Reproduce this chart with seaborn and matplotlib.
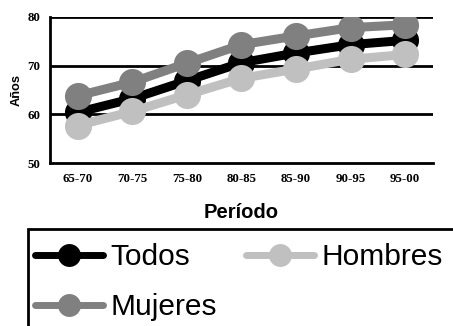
import matplotlib
matplotlib.use("Agg")
import matplotlib.pyplot as plt
import seaborn as sns
import pandas as pd
import numpy as np
from matplotlib.patches import Rectangle

# Data
periodos = ['65-70', '70-75', '75-80', '80-85', '85-90', '90-95', '95-00']
todos = [60.4, 63.2, 66.9, 70.6, 72.6, 74.3, 75.2]
hombres = [57.7, 60.6, 64.0, 67.4, 69.3, 71.3, 72.3]
mujeres = [63.8, 66.6, 70.5, 74.3, 76.1, 77.8, 78.4]

series = ['Todos', 'Hombres', 'Mujeres']
colores = {'Todos': '#000000', 'Hombres': '#c0c0c0', 'Mujeres': '#808080'}

df = pd.DataFrame({'Período': periodos, 'Todos': todos,
                   'Hombres': hombres, 'Mujeres': mujeres})
df_long = df.melt(id_vars='Período', var_name='Serie', value_name='Años')

sns.set_style('white')
plt.rcParams['font.family'] = ['Liberation Sans', 'DejaVu Sans']
plt.rcParams['text.color'] = 'black'
plt.rcParams['axes.labelcolor'] = 'black'
plt.rcParams['xtick.color'] = 'black'
plt.rcParams['ytick.color'] = 'black'

W, H = 453, 326
fig = plt.figure(figsize=(W / 100, H / 100), dpi=100)
ax = fig.add_axes([0.110, 0.500, 0.846, 0.448])

# grid lines first so the lines sit above them
for v in [60, 70, 80]:
    ax.axhline(v, color='black', lw=2.0, zorder=1)

sns.lineplot(data=df_long, x='Período', y='Años', hue='Serie',
             hue_order=series, palette=colores, marker='o',
             markersize=19.5, markeredgewidth=0, linewidth=6.5,
             sort=False, legend=False, ax=ax, zorder=3)

ax.set_ylim(50, 80)
ax.set_xlim(-0.51, 6.51)
ax.set_yticks([50, 60, 70, 80])
ax.set_xticks(range(len(periodos)))
ax.set_xticklabels(periodos)
ax.set_xticks(np.arange(-0.5, 7, 1), minor=True)
ax.tick_params(axis='x', which='major', length=0, pad=7)
ax.tick_params(axis='x', which='minor', length=4, width=1.8, direction='out')
ax.tick_params(axis='y', length=4, width=1.8, direction='out', pad=3)
for lab in ax.get_xticklabels() + ax.get_yticklabels():
    lab.set_fontfamily('Liberation Serif')
    lab.set_fontweight('bold')
    lab.set_fontsize(9.3)

for s in ['top', 'right']:
    ax.spines[s].set_visible(False)
for s in ['left', 'bottom']:
    ax.spines[s].set_color('black')
    ax.spines[s].set_linewidth(2.0)

ax.set_ylabel('Años', fontsize=9.2, fontweight='bold', labelpad=3)
ax.set_xlabel('Período', fontsize=14.5, fontweight='bold', labelpad=13)

# legend box: runs off the right and bottom edges like the reference
fig.patches.append(Rectangle((28 / W, -0.05), 1.0, 1 - 229 / H + 0.05,
                             transform=fig.transFigure, fill=False,
                             edgecolor='black', linewidth=2.0))

# legend: Todos, Hombres in first row; Mujeres in second
handles = {}
for s in series:
    handles[s] = plt.Line2D([], [], color=colores[s], lw=5, marker='o',
                            markersize=16.5, markeredgewidth=0)
order = ['Todos', 'Mujeres', 'Hombres']
leg = fig.legend([handles[s] for s in order], order, ncol=2,
                 loc='upper left', bbox_to_anchor=(35 / W, 1 - 243 / H),
                 fontsize=21.5, frameon=False,
                 handlelength=2.27, handletextpad=0.25, columnspacing=0.98,
                 labelspacing=0.75, borderpad=0, borderaxespad=0)

fig.savefig('out.png', dpi=100)
